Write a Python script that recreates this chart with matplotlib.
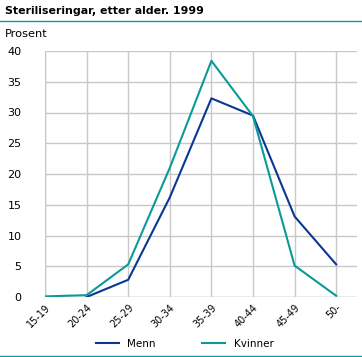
import numpy as np
import matplotlib
matplotlib.use('Agg')
import matplotlib.pyplot as plt
from matplotlib.lines import Line2D

aldersgrupper = ['15-19', '20-24', '25-29', '30-34', '35-39', '40-44', '45-49', '50-']
menn = [np.nan, 0.0, 2.8, 16.2, 32.3, 29.5, 13.1, 5.3]
kvinner = [0.1, 0.3, 5.3, 21.0, 38.4, 29.4, 5.1, 0.2]
y_ticks = [0, 5, 10, 15, 20, 25, 30, 35, 40]

col_menn = '#0a3694'
col_kvinner = '#0a9a9a'
col_grid = '#c8c8c8'

fig = plt.figure(figsize=(3.62, 3.57), dpi=100)
ax = fig.add_axes([45 / 362, 60 / 357, 312 / 362, 246 / 357])

x = np.arange(len(aldersgrupper))
ax.plot(x, menn, color=col_menn, lw=1.5, label='Menn', zorder=3)
ax.plot(x, kvinner, color=col_kvinner, lw=1.5, label='Kvinner', zorder=3)

ax.set_xlim(0, 7.5)
ax.set_ylim(0, 40)
ax.set_xticks(x)
ax.set_xticklabels(aldersgrupper, rotation=45, ha='right', rotation_mode='anchor', fontsize=7)
ax.set_yticks(y_ticks)
ax.set_yticklabels([str(v) for v in y_ticks], fontsize=8)
ax.tick_params(axis='x', length=0, pad=4)
ax.tick_params(axis='y', length=0, pad=17)
ax.grid(True, color=col_grid, lw=1)
ax.set_axisbelow(True)
for s in ax.spines.values():
    s.set_visible(False)
ax.axhline(0, color=col_grid, lw=1, zorder=1)
ax.axvline(0, color=col_grid, lw=1, zorder=1)

fig.text(5 / 362, 1 - 11 / 357, 'Steriliseringar, etter alder. 1999', fontsize=7.9,
         fontweight='bold', va='center', ha='left')
fig.add_artist(Line2D([0, 1], [1 - 21 / 357, 1 - 21 / 357], color=col_kvinner, lw=1))
fig.text(5 / 362, 1 - 34 / 357, 'Prosent', fontsize=8.2, va='center', ha='left')
fig.add_artist(Line2D([0, 1], [1.5 / 357, 1.5 / 357], color=col_kvinner, lw=1))

handles = [Line2D([], [], color=col_menn, lw=1.5), Line2D([], [], color=col_kvinner, lw=1.5)]
fig.legend(handles, ['Menn', 'Kvinner'], loc='center', bbox_to_anchor=(0.51, 13 / 357),
           ncol=2, frameon=False, fontsize=7.5, handlelength=2.2, columnspacing=4.5)

fig.savefig('out.png', dpi=100)
